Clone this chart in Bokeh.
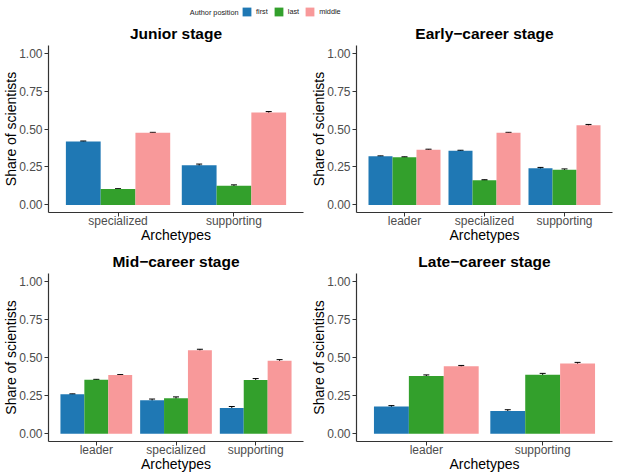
from bokeh.plotting import figure
from bokeh.models import (ColumnDataSource, FactorRange, Range1d, FixedTicker, Whisker, TeeHead,
                          Legend, LegendItem, Label, NumeralTickFormatter)
from bokeh.layouts import column, row
from bokeh.transform import dodge
from bokeh.embed import file_html
from bokeh.resources import INLINE

# ---------------- data ----------------
positions = ["first", "last", "middle"]
colors = ["#1F78B4", "#33A02C", "#F8999A"]

junior_archetypes = ["specialized", "supporting"]
junior_first = [0.418, 0.262]
junior_last = [0.104, 0.127]
junior_middle = [0.475, 0.609]
junior_first_err = [0.003, 0.007]
junior_last_err = [0.003, 0.005]
junior_middle_err = [0.003, 0.006]

early_archetypes = ["leader", "specialized", "supporting"]
early_first = [0.320, 0.357, 0.241]
early_last = [0.314, 0.163, 0.231]
early_middle = [0.364, 0.475, 0.524]
early_first_err = [0.003, 0.003, 0.006]
early_last_err = [0.003, 0.003, 0.006]
early_middle_err = [0.003, 0.003, 0.006]

mid_archetypes = ["leader", "specialized", "supporting"]
mid_first = [0.259, 0.220, 0.170]
mid_last = [0.354, 0.234, 0.352]
mid_middle = [0.385, 0.547, 0.478]
mid_first_err = [0.003, 0.008, 0.009]
mid_last_err = [0.003, 0.008, 0.010]
mid_middle_err = [0.003, 0.007, 0.008]

late_archetypes = ["leader", "supporting"]
late_first = [0.179, 0.150]
late_last = [0.379, 0.387]
late_middle = [0.442, 0.460]
late_first_err = [0.006, 0.008]
late_last_err = [0.007, 0.009]
late_middle_err = [0.006, 0.008]

y_ticks = [0, 0.25, 0.5, 0.75, 1.0]

FONT = "Liberation Sans"
offsets = [-0.3, 0.0, 0.3]


def panel(title, archetypes, vals, errs, width, height, bl, br, bt, bb):
    data = {"arch": archetypes}
    for pos, v, e in zip(positions, vals, errs):
        data[pos] = v
        data[pos + "_lo"] = [a - b for a, b in zip(v, e)]
        data[pos + "_hi"] = [a + b for a, b in zip(v, e)]
    src = ColumnDataSource(data)
    xr = FactorRange(factors=archetypes, range_padding=0.1, range_padding_units="absolute")
    p = figure(x_range=xr, y_range=Range1d(-0.05, 1.05), width=width, height=height,
               output_backend="svg", toolbar_location=None, title=title,
               min_border_left=bl, min_border_right=br, min_border_top=bt, min_border_bottom=bb)
    for pos, off, c in zip(positions, offsets, colors):
        p.vbar(x=dodge("arch", off, range=xr), top=pos, bottom=0, width=0.3, source=src,
               fill_color=c, line_color=None)
        w = Whisker(base=dodge("arch", off, range=xr), upper=pos + "_hi", lower=pos + "_lo",
                    source=src, line_color="black", line_width=1,
                    upper_head=TeeHead(size=6, line_color="black", line_width=1),
                    lower_head=TeeHead(size=6, line_color="black", line_width=1))
        p.add_layout(w)
    p.xgrid.visible = False
    p.ygrid.visible = False
    p.outline_line_color = None
    p.title.align = "center"
    p.title.text_font = FONT
    p.title.text_font_size = "15.5px"
    p.title.text_font_style = "bold"
    p.title.text_color = "black"
    p.title.standoff = 8
    p.yaxis.ticker = FixedTicker(ticks=y_ticks)
    p.yaxis.formatter = NumeralTickFormatter(format="0.00")
    p.xaxis.axis_label = "Archetypes"
    p.yaxis.axis_label = "Share of scientists"
    for ax in (p.xaxis, p.yaxis):
        ax.axis_line_color = "#333333"
        ax.axis_line_width = 1.2
        ax.major_tick_line_color = "#333333"
        ax.major_tick_in = 0
        ax.major_tick_out = 4
        ax.minor_tick_line_color = None
        ax.major_label_text_font = FONT
        ax.major_label_text_font_size = "12px"
        ax.major_label_text_color = "#4D4D4D"
        ax.axis_label_text_font = FONT
        ax.axis_label_text_font_size = "14px"
        ax.axis_label_text_font_style = "normal"
        ax.axis_label_text_color = "black"
    p.xaxis.major_label_standoff = -3
    p.xaxis.axis_label_standoff = -4
    p.yaxis.major_label_standoff = 2
    p.yaxis.axis_label_standoff = -3
    return p


p1 = panel("Junior stage", junior_archetypes,
           [junior_first, junior_last, junior_middle],
           [junior_first_err, junior_last_err, junior_middle_err],
           308, 228, 48, 5, 28, 32)
p2 = panel("Early\u2212career stage", early_archetypes,
           [early_first, early_last, early_middle],
           [early_first_err, early_last_err, early_middle_err],
           309, 228, 48, 5, 28, 32)
p3 = panel("Mid\u2212career stage", mid_archetypes,
           [mid_first, mid_last, mid_middle],
           [mid_first_err, mid_last_err, mid_middle_err],
           308, 231, 48, 5, 28, 35)
p4 = panel("Late\u2212career stage", late_archetypes,
           [late_first, late_last, late_middle],
           [late_first_err, late_last_err, late_middle_err],
           309, 231, 48, 5, 28, 35)

# ---------------- legend strip ----------------
lg = figure(width=617, height=17, output_backend="svg", toolbar_location=None,
            x_range=Range1d(0, 1), y_range=Range1d(0, 1),
            min_border=0, min_border_left=0, min_border_right=0, min_border_top=0, min_border_bottom=0)
lg.axis.visible = False
lg.grid.visible = False
lg.outline_line_color = None
items = []
for pos, c in zip(positions, colors):
    # placed outside the visible range: only its legend swatch is shown
    r = lg.vbar(x=[10], top=[1], width=0.1, fill_color=c, line_color=None)
    items.append(LegendItem(label=pos, renderers=[r]))
leg = Legend(items=items, orientation="horizontal", location=(241, 0),
             glyph_width=11, glyph_height=11, label_height=11, label_width=0,
             label_standoff=4, spacing=5, padding=0, margin=0,
             label_text_font=FONT, label_text_font_size="7.3px", label_text_color="#1a1a1a",
             border_line_color=None, background_fill_alpha=0)
lg.add_layout(leg, "center")
lg.add_layout(Label(x=238, y=5.5, x_units="screen", y_units="screen", text="Author position",
                    text_align="right", text_baseline="middle", text_font=FONT,
                    text_font_size="7.3px", text_color="#1a1a1a"))

layout = column(lg, row(p1, p2), row(p3, p4))
open("out.html", "w").write(file_html(layout, INLINE))
